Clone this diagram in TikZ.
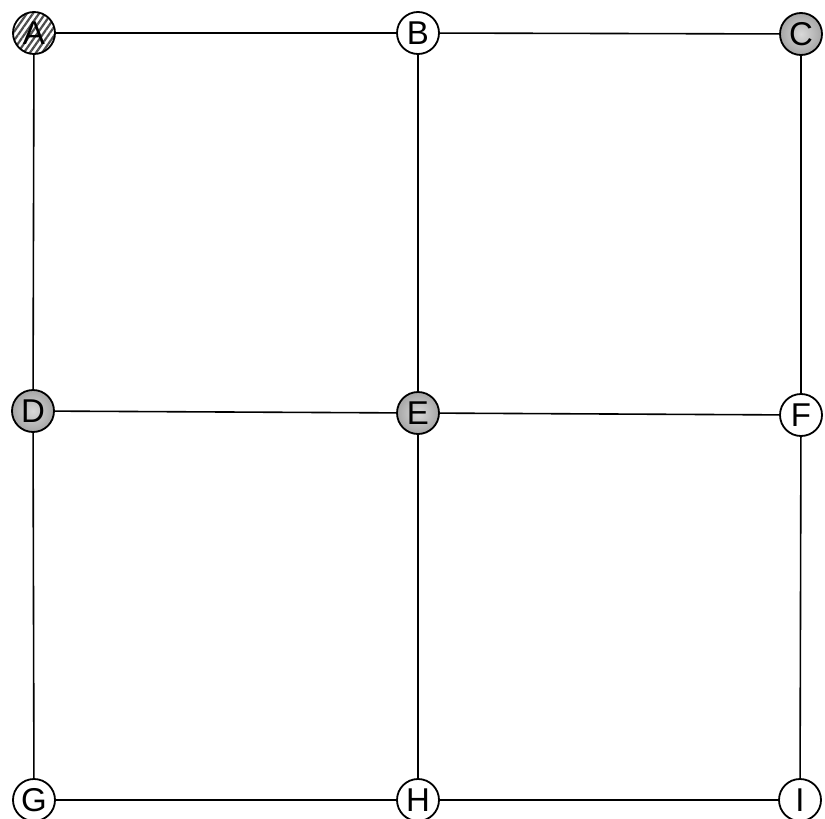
\documentclass[tikz,border=0pt]{standalone}
\usepackage{fontspec}
\setmainfont{Liberation Sans}
\usetikzlibrary{patterns.meta}

\begin{document}
\begin{tikzpicture}[
  x=1pt, y=-1pt,
  vertex/.style={draw, circle, line width=1.8pt, minimum size=42pt, inner sep=0pt, fill=white, font=\fontsize{33}{36}\selectfont},
  hatched/.style={vertex, pattern={Lines[angle=55, distance=5pt, line width=2.2pt]}, pattern color=gray!60!black},
  shaded/.style={vertex, shading=radial, inner color=gray!30, outer color=gray!70},
  edge/.style={line width=1.6pt},
]
\useasboundingbox (0,0) rectangle (825,819);

% Top row
\node[hatched] (A) at (34,33) {A};
\node[vertex] (B) at (418,33) {B};
\node[shaded] (C) at (801,34) {C};

% Middle row
\node[shaded] (D) at (33,411) {D};
\node[shaded] (E) at (418,413) {E};
\node[vertex] (F) at (801,415) {F};

% Bottom row
\node[vertex] (G) at (34,800) {G};
\node[vertex] (H) at (418,800) {H};
\node[vertex] (I) at (800,800) {I};

% Horizontal edges
\draw[edge] (A) -- (B);
\draw[edge] (B) -- (C);
\draw[edge] (D) -- (E);
\draw[edge] (E) -- (F);
\draw[edge] (G) -- (H);
\draw[edge] (H) -- (I);

% Vertical edges
\draw[edge] (A) -- (D);
\draw[edge] (D) -- (G);
\draw[edge] (B) -- (E);
\draw[edge] (E) -- (H);
\draw[edge] (C) -- (F);
\draw[edge] (F) -- (I);

\end{tikzpicture}
\end{document}
